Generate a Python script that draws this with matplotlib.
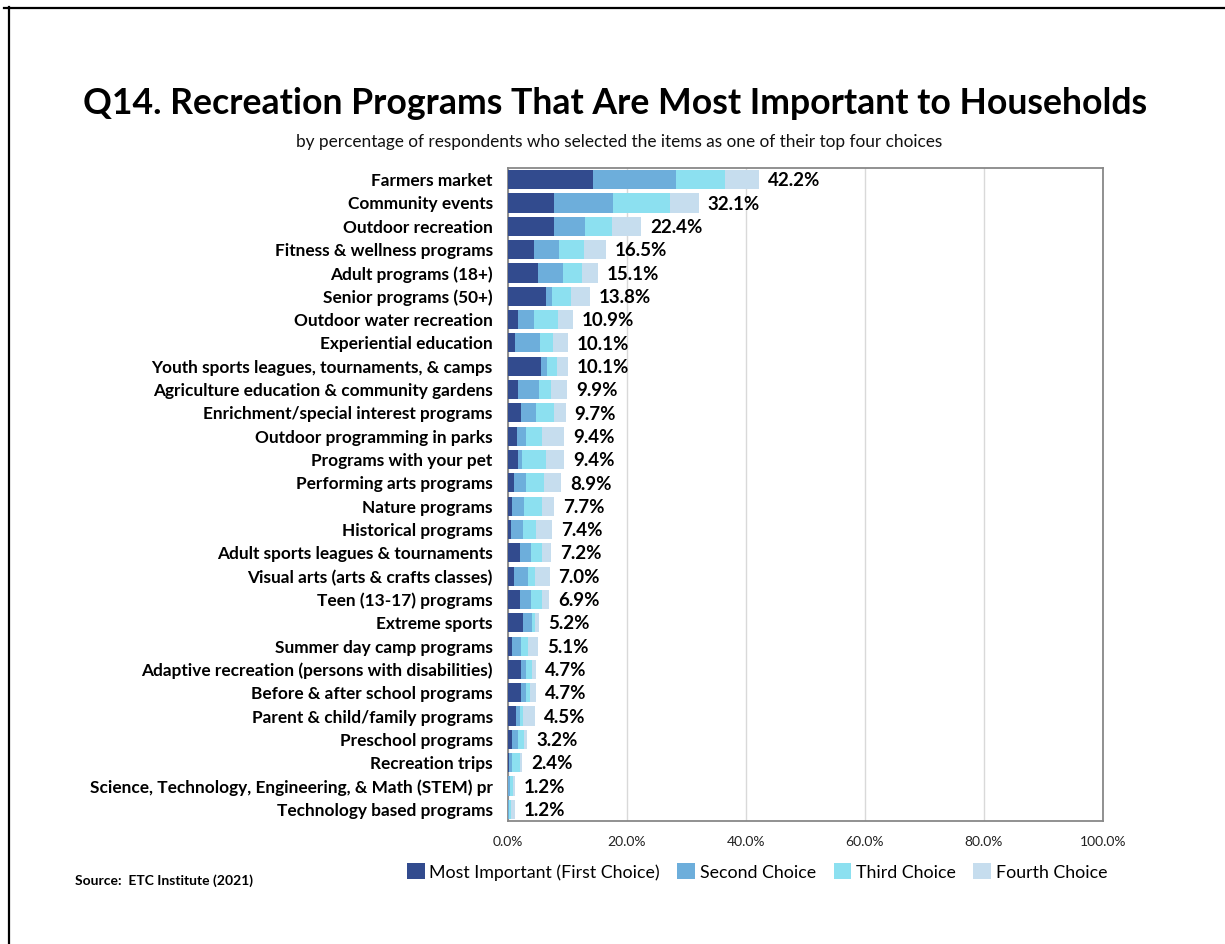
import matplotlib
matplotlib.use("Agg")
import matplotlib.pyplot as plt
from matplotlib.lines import Line2D
from matplotlib.patches import Patch
import numpy as np

categories = [
    "Farmers market",
    "Community events",
    "Outdoor recreation",
    "Fitness & wellness programs",
    "Adult programs (18+)",
    "Senior programs (50+)",
    "Outdoor water recreation",
    "Experiential education",
    "Youth sports leagues, tournaments, & camps",
    "Agriculture education & community gardens",
    "Enrichment/special interest programs",
    "Outdoor programming in parks",
    "Programs with your pet",
    "Performing arts programs",
    "Nature programs",
    "Historical programs",
    "Adult sports leagues & tournaments",
    "Visual arts (arts & crafts classes)",
    "Teen (13-17) programs",
    "Extreme sports",
    "Summer day camp programs",
    "Adaptive recreation (persons with disabilities)",
    "Before & after school programs",
    "Parent & child/family programs",
    "Preschool programs",
    "Recreation trips",
    "Science, Technology, Engineering, & Math (STEM) pr",
    "Technology based programs",
]

first_choice = [14.3, 7.7, 7.7, 4.4, 5.1, 6.4, 1.7, 1.2, 5.6, 1.7, 2.2, 1.5, 1.7, 1.0,
                0.7, 0.5, 2.0, 1.0, 2.0, 2.6, 0.7, 2.2, 2.2, 1.4, 0.7, 0.1, 0.0, 0.0]
second_choice = [14.0, 10.0, 5.3, 4.2, 4.2, 1.0, 2.6, 4.2, 1.0, 3.5, 2.5, 1.5, 0.6, 2.1,
                 2.0, 2.0, 1.9, 2.4, 1.9, 1.5, 1.5, 0.9, 0.9, 0.6, 0.9, 0.6, 0.3, 0.1]
third_choice = [8.2, 9.5, 4.4, 4.2, 3.2, 3.2, 4.1, 2.2, 1.7, 2.0, 3.0, 2.7, 4.1, 3.0,
                3.0, 2.2, 1.8, 1.1, 1.8, 0.5, 1.2, 1.0, 0.6, 0.5, 1.1, 1.3, 0.5, 0.4]
fourth_choice = [5.7, 4.9, 5.0, 3.7, 2.6, 3.2, 2.5, 2.5, 1.8, 2.7, 2.0, 3.7, 3.0, 2.8,
                 2.0, 2.7, 1.5, 2.5, 1.2, 0.6, 1.7, 0.6, 1.0, 2.0, 0.5, 0.4, 0.4, 0.7]
totals = [42.2, 32.1, 22.4, 16.5, 15.1, 13.8, 10.9, 10.1, 10.1, 9.9, 9.7, 9.4, 9.4, 8.9,
          7.7, 7.4, 7.2, 7.0, 6.9, 5.2, 5.1, 4.7, 4.7, 4.5, 3.2, 2.4, 1.2, 1.2]

series_names = ["Most Important (First Choice)", "Second Choice", "Third Choice", "Fourth Choice"]
series_colors = ["#324B8E", "#6DAEDB", "#8CE0F0", "#C6DDEE"]
x_ticks = [0, 20, 40, 60, 80, 100]

FONT = ["Lato", "DejaVu Sans"]
plt.rcParams["font.family"] = FONT

fig = plt.figure(figsize=(12.25, 9.44), dpi=100)

# outer frame lines (top and left)
fig.add_artist(Line2D([4 / 1225, 1.0], [1 - 7.5 / 944] * 2, color="black", lw=1.6,
                      transform=fig.transFigure))
fig.add_artist(Line2D([9 / 1225] * 2, [0.0, 1 - 7 / 944], color="black", lw=1.6,
                      transform=fig.transFigure))

ax = fig.add_axes([508 / 1225, 1 - 821 / 944, (1103 - 508) / 1225, (821 - 168) / 944])

y = np.arange(len(categories))
series = [first_choice, second_choice, third_choice, fourth_choice]
left = np.zeros(len(categories))
for vals, color, name in zip(series, series_colors, series_names):
    vals = np.array(vals)
    ax.barh(y, vals, left=left, height=0.82, color=color, label=name, zorder=3)
    left += vals

# Total labels placed from the stated values
for yi, tot in zip(y, totals):
    ax.text(tot + 1.5, yi + 0.05, f"{tot:.1f}%", va="center", ha="left",
            fontsize=13.5, fontweight="bold", color="#000000", zorder=4)

ax.set_xlim(0, 100)
ax.set_ylim(len(categories) - 0.5, -0.5)
ax.set_yticks(y)
ax.set_yticklabels(categories, fontsize=12.4, fontweight="bold", color="#000000")
ax.set_xticks(x_ticks)
ax.set_xticklabels([f"{t:.1f}%" for t in x_ticks], fontsize=10, color="#222222")
ax.tick_params(axis="both", length=0)
ax.tick_params(axis="x", pad=11)
ax.tick_params(axis="y", pad=11)
ax.grid(axis="x", color="#D9D9D9", lw=1, zorder=0)
for s in ax.spines.values():
    s.set_color("#888888")
    s.set_linewidth(1.3)

fig.text(615.5 / 1225, 1 - 103 / 944,
         "Q14. Recreation Programs That Are Most Important to Households",
         ha="center", va="center", fontsize=25.7, fontweight="bold", color="#000000")
fig.text(619 / 1225, 1 - 142 / 944,
         "by percentage of respondents who selected the items as one of their top four choices",
         ha="center", va="center", fontsize=12.4, color="#111111")

handles = [Patch(facecolor=c, edgecolor="none") for c in series_colors]
fig.legend(handles, series_names, loc="center", bbox_to_anchor=(757 / 1225, 1 - 872 / 944),
           ncol=4, frameon=False, fontsize=12.8, handlelength=1.0, handleheight=1.0,
           handletextpad=0.25, columnspacing=1.0)

fig.text(75 / 1225, 1 - 881 / 944, "Source:  ETC Institute (2021)", ha="left", va="center",
         fontsize=10, fontweight="bold", color="#000000")

fig.savefig("out.png", dpi=100, facecolor="white")
